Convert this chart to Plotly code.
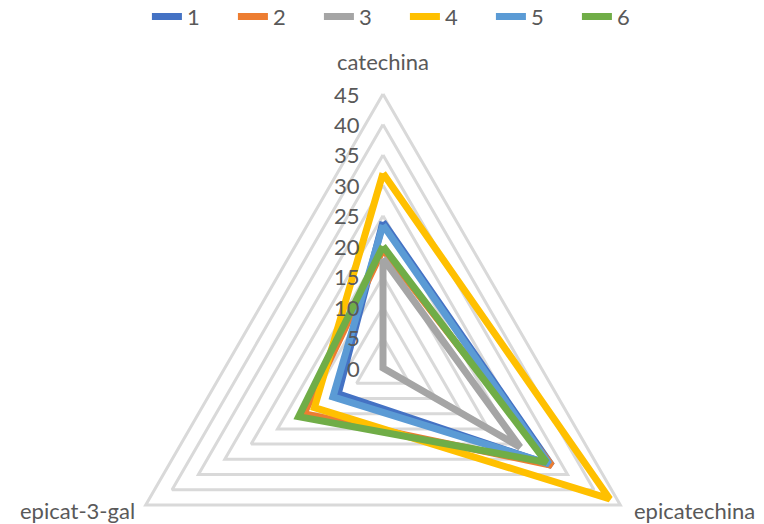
import numpy as np
import plotly.graph_objects as go

categories = ["catechina", "epicatechina", "epicat-3-gal"]
category_angles_deg = [90, -30, 210]
series_names = ["1", "2", "3", "4", "5", "6"]
s1 = [24, 32, 8.5]
s2 = [19.5, 32, 15]
s3 = [18, 26, 0]
s4 = [32, 43, 13]
s5 = [23.5, 31.5, 9.5]
s6 = [20, 31, 16]
series_values = [s1, s2, s3, s4, s5, s6]
colors = ["#4472C4", "#ED7D31", "#A5A5A5", "#FFC000", "#5B9BD5", "#70AD47"]
tick_values = [0, 5, 10, 15, 20, 25, 30, 35, 40, 45]
tick_labels = ["0", "5", "10", "15", "20", "25", "30", "35", "40", "45"]
r_max = 45

W, H = 764, 524
cx, cy = 383, 368          # centre of the radar in page pixels
R_px = 274                 # pixel radius of the outer grid triangle
k = R_px / r_max           # pixels per value unit

ang = np.radians(category_angles_deg)
ang_closed = np.append(ang, ang[0])


def to_xy(vals):
    v = np.append(np.asarray(vals, dtype=float), vals[0])
    return v * np.cos(ang_closed), v * np.sin(ang_closed)


fig = go.Figure()

# radial grid (triangles)
for lv in tick_values[1:]:
    gx, gy = to_xy([lv] * len(categories))
    fig.add_trace(go.Scatter(x=gx, y=gy, mode="lines",
                             line=dict(color="#D9D9D9", width=3),
                             showlegend=False, hoverinfo="skip"))

# data series
for name, vals, col in zip(series_names, series_values, colors):
    sx, sy = to_xy(vals)
    fig.add_trace(go.Scatter(x=sx, y=sy, mode="lines", name=name,
                             line=dict(color=col, width=7),
                             customdata=np.append(vals, vals[0]),
                             text=categories + [categories[0]],
                             hovertemplate="%{text}: %{customdata}<extra>" + name + "</extra>"))

annotations = []
txt_font = dict(family="Lato, sans-serif", size=22, color="#595959")
# radial tick labels along the top axis
for tv, tl in zip(tick_values, tick_labels):
    annotations.append(dict(x=0, y=tv, xref="x", yref="y", text=tl, showarrow=False,
                            xanchor="right", yanchor="middle", xshift=-21, font=txt_font))
# category labels at the outer vertices
cat_pos = [
    dict(xanchor="center", yanchor="middle", xshift=0, yshift=33),
    dict(xanchor="left", yanchor="middle", xshift=12, yshift=-5),
    dict(xanchor="right", yanchor="middle", xshift=-9, yshift=-5),
]
for c, a, p in zip(categories, ang, cat_pos):
    annotations.append(dict(x=r_max * np.cos(a), y=r_max * np.sin(a), xref="x", yref="y",
                            text=c, showarrow=False, font=txt_font, **p))

fig.update_layout(
    width=W, height=H, autosize=False,
    margin=dict(l=0, r=0, t=0, b=0, autoexpand=False),
    paper_bgcolor="white", plot_bgcolor="white",
    font=txt_font,
    xaxis=dict(range=[-cx / k, (W - cx) / k], visible=False, fixedrange=True),
    yaxis=dict(range=[-(H - cy) / k, cy / k], visible=False, fixedrange=True),
    annotations=annotations,
    legend=dict(orientation="h", x=0.530, xanchor="center", y=1.008, yanchor="top",
                font=dict(family="Lato, sans-serif", size=22, color="#595959"),
                entrywidth=41, entrywidthmode="pixels", bgcolor="rgba(0,0,0,0)"),
    showlegend=True,
)

fig.write_html("out.html")
